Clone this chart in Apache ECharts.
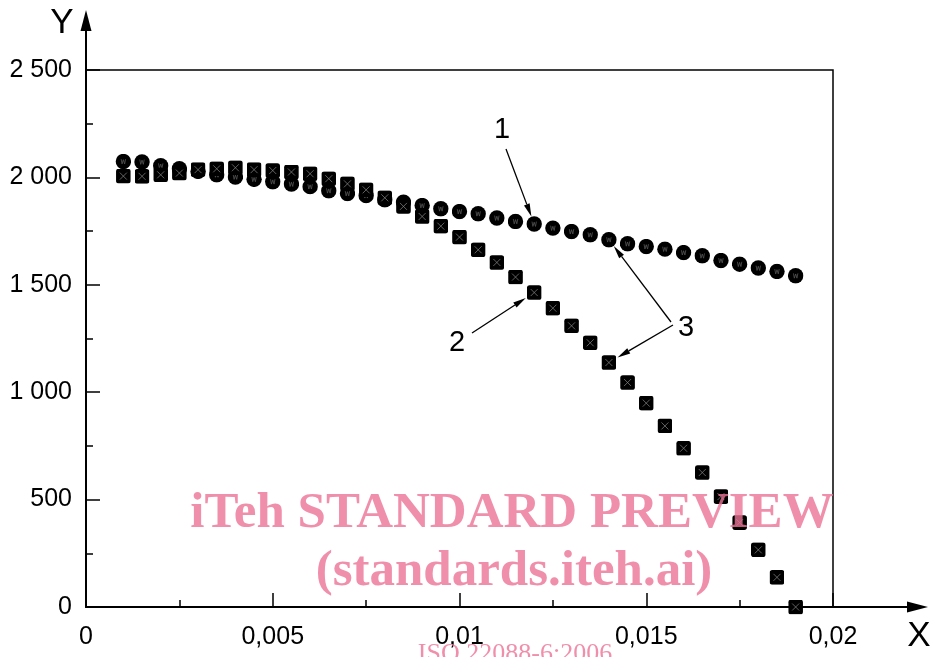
<!DOCTYPE html>
<html>
<head>
<meta charset="utf-8">
<script src="https://cdn.jsdelivr.net/npm/echarts@6/dist/echarts.min.js"></script>
<style>
  html, body { margin: 0; padding: 0; background: #fff; }
  #chart { width: 934px; height: 657px; }
</style>
</head>
<body>
<div id="chart"></div>
<script>
// strain values (X)
var xValues = [0.001, 0.0015, 0.002, 0.0025, 0.003, 0.0035, 0.004, 0.0045, 0.005, 0.0055,
  0.006, 0.0065, 0.007, 0.0075, 0.008, 0.0085, 0.009, 0.0095, 0.01, 0.0105,
  0.011, 0.0115, 0.012, 0.0125, 0.013, 0.0135, 0.014, 0.0145, 0.015, 0.0155,
  0.016, 0.0165, 0.017, 0.0175, 0.018, 0.0185, 0.019]

// curve 1 (circles)
var curve1 = [2074, 2072, 2054, 2040, 2028, 2012, 2002, 1991, 1980, 1969,
  1957, 1938, 1925, 1915, 1896, 1885, 1869, 1854, 1841, 1831,
  1811, 1795, 1783, 1764, 1748, 1733, 1710, 1691, 1678, 1666,
  1650, 1635, 1613, 1596, 1578, 1562, 1542]

// curve 2 (squares)
var curve2 = [2006, 2005, 2012, 2020, 2036, 2040, 2045, 2036, 2032, 2025,
  2017, 1994, 1970, 1942, 1905, 1865, 1818, 1773, 1722, 1663,
  1604, 1536, 1464, 1391, 1309, 1230, 1138, 1045, 949, 843,
  739, 626, 514, 393, 266, 138, 0]

var xTicks = [0, 0.005, 0.01, 0.015, 0.02]
var yTicks = [0, 500, 1000, 1500, 2000, 2500]

var circleSvg = "<svg xmlns='http://www.w3.org/2000/svg' width='16' height='16'>" +
  "<circle cx='8' cy='8' r='7.7' fill='#000'/>" +
  "<path d='M5.8 5.6 L6.7 10.4 L8 6.2 L9.3 10.4 L10.2 5.6' stroke='#555' stroke-width='0.8' fill='none'/></svg>"
var squareSvg = "<svg xmlns='http://www.w3.org/2000/svg' width='15' height='15'>" +
  "<rect x='0.2' y='0.2' width='14.6' height='14.6' rx='2.6' fill='#000'/>" +
  "<path d='M4 4 L11 11 M11 4 L4 11' stroke='#8a8a8a' stroke-width='0.7'/></svg>"
var circleSym = 'image://data:image/svg+xml;charset=utf-8,' + encodeURIComponent(circleSvg)
var squareSym = 'image://data:image/svg+xml;charset=utf-8,' + encodeURIComponent(squareSvg)

var chart = echarts.init(document.getElementById('chart'))
var font = 'Liberation Sans, Arial, sans-serif'

var option = {
  animation: false,
  backgroundColor: '#fff',
  grid: {
    left: 86, right: 101, top: 70, bottom: 50,
    show: true, borderColor: '#000', borderWidth: 1.5
  },
  xAxis: {
    type: 'value',
    min: 0, max: 0.02, interval: 0.005,
    axisLine: { show: true, onZero: false, lineStyle: { color: '#000', width: 2 } },
    axisTick: { show: true, inside: true, length: 14, lineStyle: { color: '#000', width: 1.5 } },
    minorTick: { show: true, splitNumber: 2, length: 7, lineStyle: { color: '#000', width: 1.5 } },
    splitLine: { show: false },
    axisLabel: {
      margin: 18, color: '#000', fontSize: 25, fontFamily: font,
      formatter: function (v) {
        return xTicks.indexOf(v) >= 0 ? String(v).replace('.', ',') : ''
      }
    }
  },
  yAxis: {
    type: 'value',
    min: 0, max: 2500, interval: 500,
    axisLine: { show: true, onZero: false, lineStyle: { color: '#000', width: 2 } },
    axisTick: { show: true, inside: true, length: 14, lineStyle: { color: '#000', width: 1.5 } },
    minorTick: { show: true, splitNumber: 2, length: 7, lineStyle: { color: '#000', width: 1.5 } },
    splitLine: { show: false },
    axisLabel: {
      margin: 14, color: '#000', fontSize: 25, fontFamily: font,
      formatter: function (v) {
        return yTicks.indexOf(v) >= 0 ? String(v).replace(/\B(?=(\d{3})+(?!\d))/g, ' ') : ''
      }
    }
  },
  series: [
    {
      name: '1', type: 'scatter', symbol: circleSym, symbolSize: 16,
      itemStyle: { opacity: 1 },
      data: xValues.map(function (x, i) { return [x, curve1[i]] }), z: 3
    },
    {
      name: '2', type: 'scatter', symbol: squareSym, symbolSize: 15,
      itemStyle: { opacity: 1 },
      data: xValues.map(function (x, i) { return [x, curve2[i]] }), z: 4
    }
  ]
}
chart.setOption(option)

// annotation arrows pointing at data points
function arrowTo (from, idx, series, gap) {
  var p = chart.convertToPixel({ gridIndex: 0 }, [xValues[idx], series[idx]])
  var dx = p[0] - from[0], dy = p[1] - from[1]
  var len = Math.sqrt(dx * dx + dy * dy)
  var ux = dx / len, uy = dy / len
  var tip = [p[0] - ux * gap, p[1] - uy * gap]
  var hl = 13, hw = 3
  var base = [tip[0] - ux * hl, tip[1] - uy * hl]
  return [
    { type: 'line', shape: { x1: from[0], y1: from[1], x2: base[0], y2: base[1] },
      style: { stroke: '#000', lineWidth: 1.3 }, z: 10 },
    { type: 'polygon', shape: { points: [tip,
      [base[0] - uy * hw, base[1] + ux * hw], [base[0] + uy * hw, base[1] - ux * hw]] },
      style: { fill: '#000' }, z: 10 }
  ]
}

var origin = chart.convertToPixel({ gridIndex: 0 }, [0, 0])
var corner = chart.convertToPixel({ gridIndex: 0 }, [0.02, 2500])

var labelStyle = { fill: '#000', font: '29px ' + font, align: 'center', verticalAlign: 'middle' }
var wmColor = 'rgba(236,115,150,0.8)'
var wmFont = 'bold 51px Liberation Serif, Times New Roman, serif'

var graphics = [
  // axis extensions with arrows
  { type: 'line', shape: { x1: origin[0], y1: corner[1], x2: origin[0], y2: 28 }, style: { stroke: '#000', lineWidth: 2 } },
  { type: 'polygon', shape: { points: [[origin[0], 10], [origin[0] - 5.5, 31], [origin[0] + 5.5, 31]] }, style: { fill: '#000' } },
  { type: 'line', shape: { x1: corner[0], y1: origin[1], x2: 910, y2: origin[1] }, style: { stroke: '#000', lineWidth: 2 } },
  { type: 'polygon', shape: { points: [[928, origin[1]], [907, origin[1] - 5.5], [907, origin[1] + 5.5]] }, style: { fill: '#000' } },
  { type: 'text', x: 62, y: 23, style: { text: 'Y', fill: '#000', font: '35px ' + font, align: 'center', verticalAlign: 'middle' } },
  { type: 'text', x: 919, y: 636, style: { text: 'X', fill: '#000', font: '35px ' + font, align: 'center', verticalAlign: 'middle' } },
  // curve numbers
  { type: 'text', x: 502, y: 130, style: Object.assign({ text: '1' }, labelStyle), z: 10 },
  { type: 'text', x: 457, y: 343, style: Object.assign({ text: '2' }, labelStyle), z: 10 },
  { type: 'text', x: 686, y: 328, style: Object.assign({ text: '3' }, labelStyle), z: 10 },
  // watermark
  { type: 'text', x: 512, y: 514, z: 20, style: { text: 'iTeh STANDARD PREVIEW', fill: wmColor,
    font: wmFont, align: 'center', verticalAlign: 'middle' } },
  { type: 'text', x: 514, y: 572, z: 20, style: { text: '(standards.iteh.ai)', fill: wmColor,
    font: wmFont, align: 'center', verticalAlign: 'middle' } },
  { type: 'text', x: 515, y: 654, z: 20, style: { text: 'ISO 22088-6:2006', fill: wmColor,
    font: '26px Liberation Serif, Times New Roman, serif', align: 'center', verticalAlign: 'middle' } }
]
graphics = graphics
  .concat(arrowTo([506, 149], 22, curve1, 8))
  .concat(arrowTo([472, 333], 22, curve2, 10))
  .concat(arrowTo([671, 322], 26, curve1, 8))
  .concat(arrowTo([673, 325], 26, curve2, 10))

chart.setOption({ graphic: graphics })
</script>
</body>
</html>
